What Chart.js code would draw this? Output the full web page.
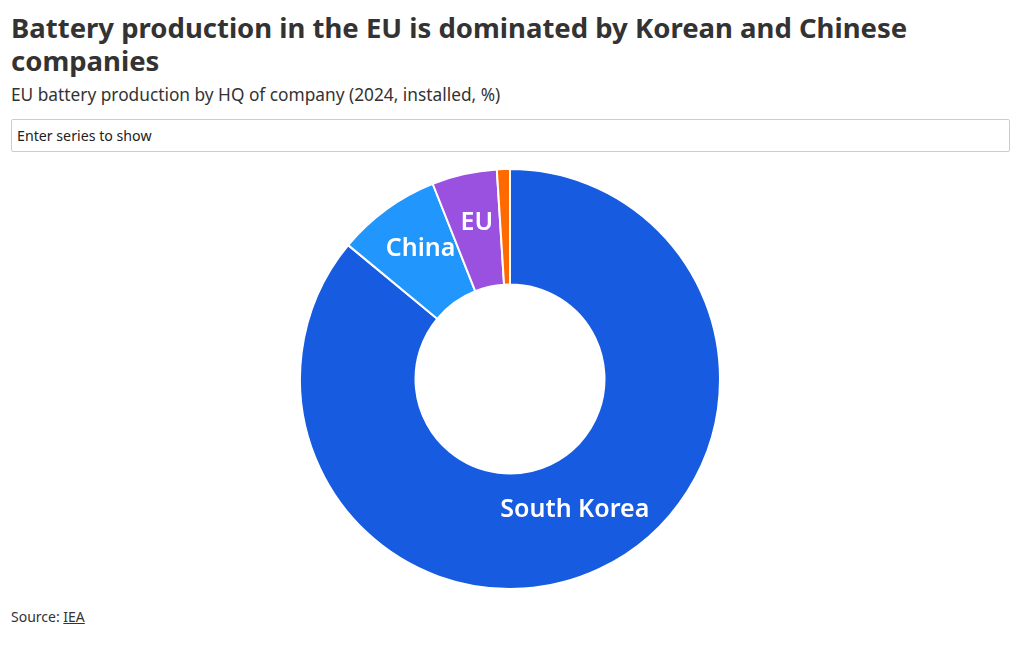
<!DOCTYPE html>
<html>
<head>
<meta charset="utf-8">
<script src="https://cdn.jsdelivr.net/npm/chart.js@4"></script>
<style>
  body { margin: 0; background: #fff; font-family: "Noto Sans", sans-serif; color: #333; }
  #title { position: absolute; left: 11px; top: 11px; width: 1000px; font-size: 27.5px; font-weight: 700; line-height: 33px; margin: 0; }
  #subtitle { position: absolute; left: 11px; top: 83px; font-size: 17.3px; margin: 0; }
  #search { position: absolute; left: 11px; top: 119px; border: 1px solid #ccc; border-radius: 2px;
            font-size: 14.2px; line-height: 31px; padding-left: 5px; box-sizing: border-box; width: 999px; height: 33px; color: #222; }
  #wrap { position: absolute; left: 0; top: 168px; width: 1020px; height: 422px; }
  #source { position: absolute; left: 11px; top: 607px; font-size: 14px; }
  #source u { text-decoration: underline; }
</style>
</head>
<body>
<h1 id="title">Battery production in the EU is dominated by Korean and Chinese companies</h1>
<p id="subtitle">EU battery production by HQ of company (2024, installed, %)</p>
<div id="search">Enter series to show</div>
<div id="wrap"><canvas id="chart-1"></canvas></div>
<div id="source">Source: <u>IEA</u></div>
<script>
const labels = ['South Korea', 'China', 'EU', 'Other'];
const shares = [86, 8, 5, 1];
const colors = ['#165be0', '#2196fd', '#9b51e0', '#ff6a00'];
const showLabel = [true, true, true, false];

// draws the slice names inside the ring
const sliceLabels = {
    id: 'sliceLabels',
    afterDatasetsDraw(chart) {
        const ctx = chart.ctx;
        const meta = chart.getDatasetMeta(0);
        ctx.save();
        ctx.fillStyle = '#fff';
        ctx.font = '600 25px "Noto Sans"';
        ctx.textAlign = 'center';
        ctx.textBaseline = 'alphabetic';
        meta.data.forEach((arc, i) => {
            if (!showLabel[i]) return;
            const p = arc.tooltipPosition();
            ctx.fillText(labels[i], p.x, p.y);
        });
        ctx.restore();
    }
};

const ctx = document.getElementById('chart-1').getContext('2d');
new Chart(ctx, {
    type: 'doughnut',
    data: {
        labels: labels,
        datasets: [{
            data: shares,
            backgroundColor: colors,
            borderColor: '#fff',
            borderWidth: 2
        }]
    },
    options: {
        responsive: true,
        maintainAspectRatio: false,
        animation: false,
        cutout: '45%',
        plugins: {
            legend: { display: false },
            tooltip: { enabled: true }
        }
    },
    plugins: [sliceLabels]
});
</script>
</body>
</html>
